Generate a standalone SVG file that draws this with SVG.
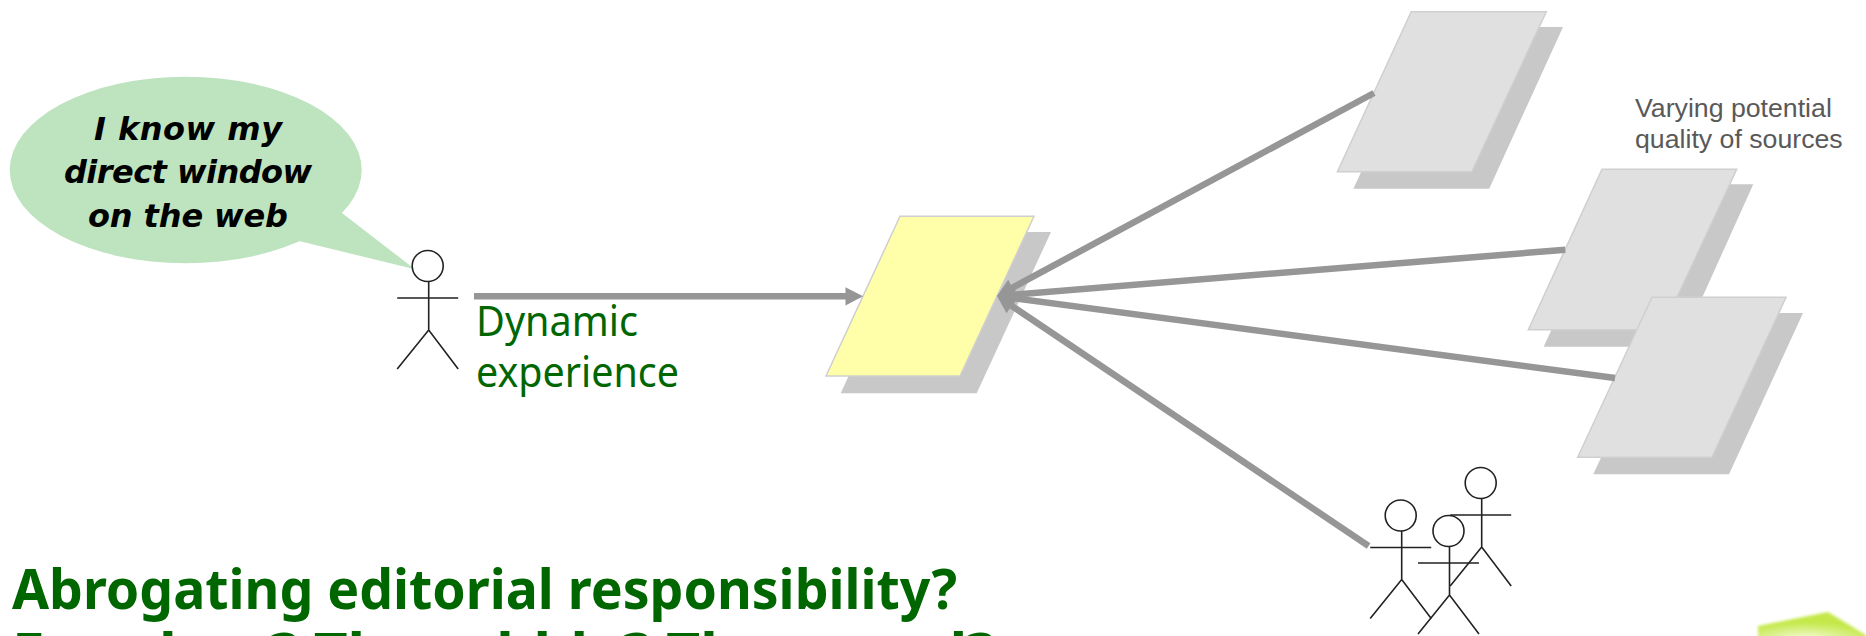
<svg xmlns="http://www.w3.org/2000/svg" width="1866" height="636" viewBox="0 0 1866 636">
<style>
.fig{fill:none;stroke:#222;stroke-width:1.6}
.fig circle{fill:#fff}
.shadow{fill:#c8c8c8}
.src{fill:#e0e0e0;stroke:#cfcfcf;stroke-width:1.5}
.conn{stroke:#969696;stroke-width:6.500;fill:none;marker-end:url(#arrow)}
.green{fill:#006600;font-family:"Noto Sans","DejaVu Sans",sans-serif}
</style>
<defs>
<marker id="arrow" markerUnits="strokeWidth" markerWidth="3" markerHeight="3" refX="0.85" refY="1.4" orient="auto" overflow="visible"><path d="M0,0L2.700,1.400L0,2.800Z" fill="#969696"/></marker>
<radialGradient id="lime" gradientUnits="userSpaceOnUse" cx="1805" cy="640" r="70" gradientTransform="translate(0 480) scale(1 .25)"><stop offset="0" stop-color="#f8fde0"/><stop offset="1" stop-color="#c4e84a"/></radialGradient>
<filter id="soft" x="-10%" y="-30%" width="120%" height="160%"><feGaussianBlur stdDeviation="1.500"/></filter>
<g id="person"><circle cx="0" cy="-32" r="15.500"/><path d="M1,-16.500V32M-30.500,0H30.500M-30.500,71L1,32L30.500,71"/></g>
</defs>
<g id="page-yellow"><path class="shadow" d="M915,232H1051L976.700,393.300H840.700Z"/><path d="M900,216.300H1034L960,376H826Z" fill="#ffffaa" stroke="#cfcfcf" stroke-width="1.500"/></g>
<g id="source-1"><path class="shadow" d="M1428,27H1563L1489.200,188.700H1353.400Z"/><path class="src" d="M1411.200,11.700H1546.300L1471.800,171.700H1337.400Z"/></g>
<g id="source-2"><path class="shadow" d="M1618,184.300H1753.300L1680,346.700H1543.700Z"/><path class="src" d="M1602,169.300H1736.700L1662,329.700H1528.300Z"/></g>
<g id="source-3"><path class="shadow" d="M1668,313H1803L1729,474.300H1593.300Z"/><path class="src" d="M1652,297.300H1786L1712,457.300H1577.700Z"/></g>
<g id="connectors">
<path class="conn" d="M474,296.300H851"/>
<path class="conn" d="M1374,93L1007.600,290.300"/>
<path class="conn" d="M1565.300,249.700L1009,295"/>
<path class="conn" d="M1615,378L1008.900,297.600"/>
<path class="conn" d="M1368.600,546L1007,302.700"/>
</g>
<g id="bubble"><ellipse cx="185.700" cy="170" rx="176" ry="93.300" fill="#bde3bf"/><path d="M338,210L415,269.300L295,240Z" fill="#bde3bf"/>
<g font-family="'DejaVu Sans',sans-serif" font-weight="bold" font-style="italic" font-size="32" text-anchor="middle" fill="#000"><text x="188" y="140" textLength="188">I know my</text><text x="188" y="183" textLength="248">direct window</text><text x="188" y="227" textLength="200">on the web</text></g></g>
<g id="actor" class="fig"><use href="#person" x="427.700" y="298"/></g>
<g id="crowd" class="fig"><use href="#person" x="1400.700" y="547.500"/><use href="#person" x="1448.500" y="563"/><use href="#person" x="1480.700" y="515"/></g>
<text class="green" font-size="42" x="476" y="336" textLength="162" lengthAdjust="spacingAndGlyphs">Dynamic</text>
<text class="green" font-size="42" x="476" y="387" textLength="203" lengthAdjust="spacingAndGlyphs">experience</text>
<g font-family="'Liberation Sans',Arial,sans-serif" font-size="26.700" fill="#595959"><text x="1635" y="117">Varying potential</text><text x="1635" y="148">quality of sources</text></g>
<text class="green" font-size="55" font-weight="bold" x="12" y="609" textLength="945" lengthAdjust="spacingAndGlyphs">Abrogating editorial responsibility?</text>
<text class="green" font-size="55" font-weight="bold" x="12" y="673" textLength="983" lengthAdjust="spacingAndGlyphs">Freedom? The rabble? The crowd?</text>
<path id="logo" d="M1758,626L1828,612L1866,635V640H1758Z" fill="url(#lime)" filter="url(#soft)"/>
</svg>
